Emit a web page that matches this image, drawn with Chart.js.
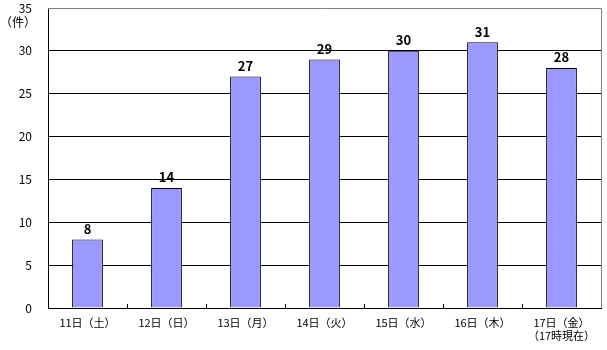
<!DOCTYPE html>
<html>
<head>
<meta charset="utf-8">
<script src="https://cdn.jsdelivr.net/npm/chart.js@4"></script>
<style>
  html, body { margin: 0; padding: 0; background: #fff; }
  #wrap { width: 607px; height: 350px; }
</style>
</head>
<body>
<div id="wrap"><canvas id="myChart" width="607" height="350"></canvas></div>
<script>
// Data
const categories = [
    '11日（土）', '12日（日）', '13日（月）', '14日（火）',
    '15日（水）', '16日（木）', ['17日（金）', '（17時現在）']
];
const counts = [8, 14, 27, 29, 30, 31, 28];
const yTicks = [0, 5, 10, 15, 20, 25, 30, 35];
const unitLabel = '（件）';

const FONT = '"Noto Sans CJK JP", "DejaVu Sans", sans-serif';

// Value labels, inner ticks, gray frame, unit label
const extras = {
    id: 'extras',
    afterDatasetsDraw(chart) {
        const { ctx, chartArea: { top, right, bottom, left } } = chart;
        const x = chart.scales.x;
        ctx.save();

        // frame top/right in gray
        ctx.strokeStyle = '#808080';
        ctx.lineWidth = 1;
        ctx.beginPath();
        ctx.moveTo(left, Math.round(top) + 0.5);
        ctx.lineTo(Math.round(right) + 0.5, Math.round(top) + 0.5);
        ctx.lineTo(Math.round(right) + 0.5, bottom);
        ctx.stroke();

        // small tick marks between categories
        ctx.strokeStyle = '#000';
        ctx.beginPath();
        for (let i = 0; i < counts.length - 1; i++) {
            const bx = Math.round((x.getPixelForValue(i) + x.getPixelForValue(i + 1)) / 2) + 0.5;
            ctx.moveTo(bx, bottom);
            ctx.lineTo(bx, bottom - 4);
        }
        ctx.stroke();

        // value labels
        ctx.fillStyle = '#000';
        ctx.font = 'bold 13px ' + FONT;
        ctx.textAlign = 'center';
        ctx.textBaseline = 'bottom';
        const meta = chart.getDatasetMeta(0);
        meta.data.forEach((bar, i) => {
            ctx.fillText(String(counts[i]), bar.x, bar.y - 4);
        });

        // unit label
        ctx.font = '12px ' + FONT;
        ctx.textAlign = 'right';
        ctx.textBaseline = 'middle';
        ctx.fillText(unitLabel, 36, top + 14);
        ctx.restore();
    }
};

const config = {
    type: 'bar',
    data: {
        labels: categories,
        datasets: [{
            data: counts,
            backgroundColor: '#9999FF',
            borderColor: '#000000',
            borderWidth: 1,
            borderSkipped: 'bottom',
            categoryPercentage: 1,
            barPercentage: 0.39
        }]
    },
    options: {
        responsive: false,
        animation: false,
        layout: { padding: { top: 8, right: 6, left: 0, bottom: 0 } },
        plugins: {
            legend: { display: false },
            tooltip: { enabled: false }
        },
        scales: {
            x: {
                grid: { display: false, drawTicks: false },
                border: { color: '#000', width: 1 },
                ticks: {
                    color: '#000',
                    font: { family: FONT, size: 11 },
                    padding: 8,
                    maxRotation: 0,
                    autoSkip: false
                },
                afterFit(scale) {
                    scale.height = 42;
                    scale.paddingLeft = 0;
                    scale.paddingRight = 0;
                }
            },
            y: {
                min: 0,
                max: 35,
                afterBuildTicks(scale) {
                    scale.ticks = yTicks.map(v => ({ value: v }));
                },
                grid: {
                    drawTicks: false,
                    color: ctx => (ctx.tick && ctx.tick.value === 35) ? 'rgba(0,0,0,0)' : '#000',
                    lineWidth: 1
                },
                border: { color: '#000', width: 1 },
                ticks: {
                    color: '#000',
                    font: { family: FONT, size: 12 },
                    padding: 16
                },
                afterFit(scale) {
                    scale.width = 48;
                    scale.paddingTop = 0;
                    scale.paddingBottom = 0;
                }
            }
        }
    },
    plugins: [extras]
};

new Chart(document.getElementById('myChart'), config);
</script>
</body>
</html>
